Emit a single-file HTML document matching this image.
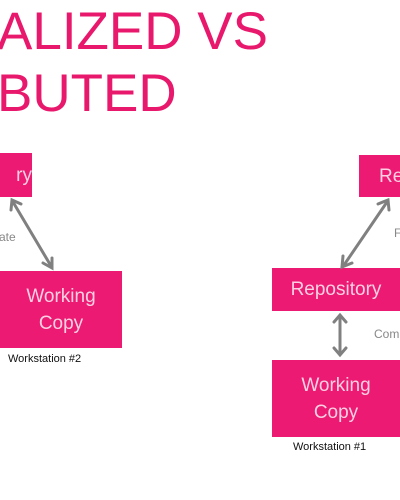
<!DOCTYPE html>
<html><head><style>
body{margin:0;width:400px;height:500px;background:#fff;position:relative;overflow:hidden;font-family:"Liberation Sans",sans-serif}
.t{position:absolute;color:#e8196c;font-size:53px;line-height:1;white-space:nowrap}
.b{position:absolute;background:#ec1a73;color:#fbd0e2;font-size:19px;display:flex;align-items:center;justify-content:center;text-align:center;line-height:27px}
.l{position:absolute;font-size:12px;color:#888;white-space:nowrap}
.w{position:absolute;font-size:11px;color:#111;white-space:nowrap}
</style></head><body>
<div class="t" style="left:-3px;top:5px">ALIZED VS</div>
<div class="t" style="left:-3px;top:67px">BUTED</div>
<div class="b" style="left:0;top:153px;width:32px;height:44px;justify-content:flex-end;padding-right:0">ry</div>
<div class="b" style="left:0;top:271px;width:122px;height:77px">Working<br>Copy</div>
<div class="l" style="left:-1px;top:230px">ate</div>
<div class="w" style="left:8px;top:353px">Workstation #2</div>
<div class="b" style="left:359px;top:155px;width:60px;height:42px;justify-content:flex-start;padding-left:20px">Re</div>
<div class="b" style="left:272px;top:268px;width:128px;height:43px">Repository</div>
<div class="b" style="left:272px;top:360px;width:128px;height:77px">Working<br>Copy</div>
<div class="l" style="left:374px;top:327px">Com</div>
<div class="l" style="left:394px;top:226px">F</div>
<div class="w" style="left:293px;top:441px">Workstation #1</div>
<svg width="400" height="500" style="position:absolute;left:0;top:0">
<g stroke="#808080" stroke-width="3" fill="none" stroke-linecap="round">
<line x1="13" y1="202" x2="51" y2="266"/>
<polyline points="11,210 12,200 21,204"/>
<polyline points="43,263 52,268 52,258"/>
<line x1="387" y1="202" x2="344" y2="265"/>
<polyline points="378,204 388,200 389,210"/>
<polyline points="343,256 342,267 352,263"/>
<line x1="340" y1="316" x2="340" y2="354"/>
<polyline points="334,322 340,315 346,322"/>
<polyline points="334,348 340,355 346,348"/>
</g></svg>
</body></html>
